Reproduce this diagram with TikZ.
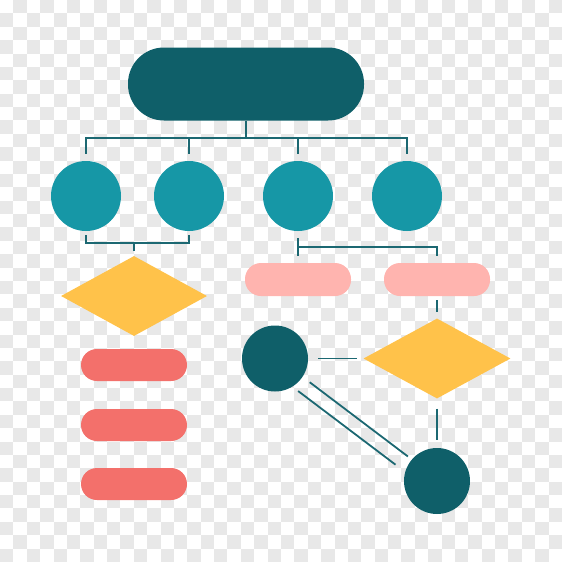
\documentclass[tikz,border=0pt]{standalone}
\usetikzlibrary{shapes.geometric, positioning, calc}

\definecolor{deepteal}{RGB}{15,95,105}
\definecolor{seateal}{RGB}{22,151,166}
\definecolor{linkteal}{RGB}{28,104,114}
\definecolor{sunyellow}{RGB}{255,194,74}
\definecolor{coral}{RGB}{243,112,107}
\definecolor{blush}{RGB}{255,180,175}
\definecolor{checker}{RGB}{232,232,232}

\begin{document}
\begin{tikzpicture}[x=1pt, y=-1pt,
    pill/.style={rectangle, rounded corners=16pt, inner sep=0pt, minimum width=106pt, minimum height=32pt},
    ball/.style={circle, inner sep=0pt, minimum size=70pt, fill=seateal},
    dot/.style={circle, inner sep=0pt, minimum size=66pt, fill=deepteal},
    rhomb/.style={diamond, inner sep=0pt, minimum width=147pt, minimum height=80pt, fill=sunyellow},
    link/.style={linkteal, line width=1.8pt}]
    \useasboundingbox (0,0) rectangle (562,562);

    % Background checkerboard
    \def\sq{13.381}
    \foreach \i in {0,...,41} {
        \foreach \j in {0,2,...,40} {
            \fill[checker] ({\i*\sq},{(\j+1-mod(\i,2))*\sq}) rectangle +(\sq,\sq);
        }
    }

    % Top
    \node[rectangle, rounded corners=36pt, inner sep=0pt, minimum width=236pt, minimum height=73pt, fill=deepteal] (root) at (246,84) {};

    % Row of circles
    \node[ball] (c1) at (86,196) {};
    \node[ball] (c2) at (189,196) {};
    \node[ball] (c3) at (298,196) {};
    \node[ball] (c4) at (407,196) {};

    % Left column
    \node[rhomb, minimum width=146pt] (dmL) at (134,296) {};
    \node[pill, fill=coral] (boxL1) at (134,365) {};
    \node[pill, fill=coral] (boxL2) at (134,425) {};
    \node[pill, fill=coral] (boxL3) at (134,484) {};

    % Right part
    \node[pill, minimum height=33pt, fill=blush] (tagL) at (298,279.5) {};
    \node[pill, minimum height=33pt, fill=blush] (tagR) at (437,279.5) {};
    \node[rhomb] (dmR) at (437,358.5) {};
    \node[dot] (dotA) at (275,358.5) {};
    \node[dot] (dotB) at (437,481) {};

    % Tree lines
    \coordinate (bus) at (0,138);
    \draw[link] (root.south) -- (root.south |- bus);
    \draw[link] ($(c1.north)+(0,-7)$) -- (c1.north |- bus) -- (c4.north |- bus) -- ($(c4.north)+(0,-7)$);
    \draw[link] (c2.north |- bus) -- ($(c2.north)+(0,-7)$);
    \draw[link] (c3.north |- bus) -- ($(c3.north)+(0,-7)$);

    % Bracket under c1, c2
    \draw[link] ($(c1.south)+(0,4)$) -- ++(0,8) coordinate (lb) -- (c2.south |- lb) -- ($(c2.south)+(0,4)$);
    \draw[link] (dmL.north |- lb) -- ($(dmL.north)+(0,-5)$);

    % Bracket under c3
    \draw[link] ($(c3.south)+(0,7)$) -- ($(tagL.north)+(0,-7)$);
    \draw[link] ($(c3.south)+(0,16)$) -| ($(tagR.north)+(0,-7)$);

    % Links on the right
    \draw[link] ($(tagR.south)+(0,4)$) -- ($(dmR.north)+(0,-6)$);
    \draw[link] ($(dotA.east)+(10,0)$) -- ($(dmR.west)+(-6,0)$);
    \draw[link] ($(dmR.south)+(0,10)$) -- ($(dotB.north)+(0,-8)$);
    \draw[link, shorten <=42pt, shorten >=38pt] ([shift={(1.2,-1.6)}]dotA.center) -- ([shift={(1.2,-1.6)}]dotB.center);
    \draw[link, shorten <=38pt, shorten >=43pt] ([shift={(-7.2,9.6)}]dotA.center) -- ([shift={(-7.2,9.6)}]dotB.center);

\end{tikzpicture}
\end{document}
